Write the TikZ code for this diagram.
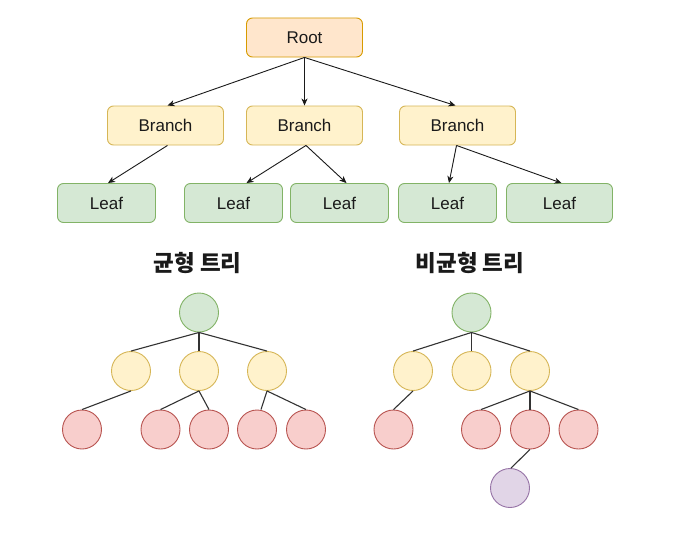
\documentclass[tikz,border=0pt]{standalone}
\usepackage{fontspec}
\setmainfont{Liberation Sans}
\newfontfamily\krfont{Noto Sans CJK KR}
\usetikzlibrary{arrows.meta}
\definecolor{rootfill}{HTML}{FFE6CC}\definecolor{rootdraw}{HTML}{D79B00}
\definecolor{brfill}{HTML}{FFF2CC}\definecolor{brdraw}{HTML}{D6B656}
\definecolor{lffill}{HTML}{D5E8D4}\definecolor{lfdraw}{HTML}{82B366}
\definecolor{rdfill}{HTML}{F8CECC}\definecolor{rddraw}{HTML}{B85450}
\definecolor{pufill}{HTML}{E1D5E7}\definecolor{pudraw}{HTML}{9673A6}
\definecolor{txt}{HTML}{1A1A1A}
\tikzset{
  box/.style={draw, rounded corners=6pt, line width=0.9pt, minimum height=39pt, inner sep=0pt, text=txt, font=\fontsize{17}{19}\selectfont},
  rootbox/.style={box, fill=rootfill, draw=rootdraw, minimum width=116pt},
  brbox/.style={box, fill=brfill, draw=brdraw, minimum width=116pt},
  lfbox/.style={box, fill=lffill, draw=lfdraw, minimum width=98pt, minimum height=39pt},
  dot/.style={circle, draw, line width=0.9pt, minimum size=39pt, inner sep=0pt},
  gdot/.style={dot, fill=lffill, draw=lfdraw},
  ydot/.style={dot, fill=brfill, draw=brdraw},
  rdot/.style={dot, fill=rdfill, draw=rddraw},
  pdot/.style={dot, fill=pufill, draw=pudraw},
  arr/.style={draw=txt, line width=0.9pt, -{Stealth[length=7pt,width=6pt,inset=2pt]}},
  edge/.style={draw=black!80, line width=1.1pt},
  title/.style={font=\krfont\bfseries\fontsize{22.5}{25}\selectfont, text=txt}
}
\begin{document}
\begin{tikzpicture}[x=1pt,y=-1pt]
\fill[white] (0,0) rectangle (676,535);
\useasboundingbox (0,0) rectangle (676,535);
% top tree
\node[rootbox] (root) at (304.5,37.5) {Root};
\node[brbox] (b1) at (165.5,125.5) {Branch};
\node[brbox] (b2) at (304.5,125.5) {Branch};
\node[brbox] (b3) at (457.5,125.5) {Branch};
\node[lfbox] (l1) at (106.5,203) {Leaf};
\node[lfbox] (l2) at (233.5,203) {Leaf};
\node[lfbox] (l3) at (339.5,203) {Leaf};
\node[lfbox] (l4) at (447.5,203) {Leaf};
\node[lfbox, minimum width=106pt] (l5) at (559.5,203) {Leaf};
\draw[arr] (root.south) -- ([xshift=2pt]b1.north);
\draw[arr] (root.south) -- (b2.north);
\draw[arr] (root.south) -- ([xshift=-2pt]b3.north);
\draw[arr] ([xshift=2pt]b1.south) -- ([xshift=1.5pt]l1.north);
\draw[arr] ([xshift=1.5pt]b2.south) -- ([xshift=13pt]l2.north);
\draw[arr] ([xshift=1.5pt]b2.south) -- ([xshift=7pt]l3.north);
\draw[arr] ([xshift=-1pt]b3.south) -- ([xshift=1.5pt]l4.north);
\draw[arr] ([xshift=-1pt]b3.south) -- ([xshift=2pt]l5.north);
% titles
\node[title] (t1) at (197.5,263) {균형 트리};
\node[title] (t2) at (470,263) {비균형 트리};
% balanced tree
\node[gdot] (a0) at (199,312.5) {};
\node[ydot] (a1) at (131,371) {};
\node[ydot] (a2) at (199,371) {};
\node[ydot] (a3) at (267,371) {};
\node[rdot] (a4) at (82,429.5) {};
\node[rdot] (a5) at (160.5,429.5) {};
\node[rdot] (a6) at (209,429.5) {};
\node[rdot] (a7) at (257,429.5) {};
\node[rdot] (a8) at (306,429.5) {};
\draw[edge] (a0.south) -- (a1.north);
\draw[edge] (a0.south) -- (a2.north);
\draw[edge] (a0.south) -- (a3.north);
\draw[edge] (a1.south) -- (a4.north);
\draw[edge] (a2.south) -- (a5.north);
\draw[edge] (a2.south) -- (a6.north);
\draw[edge] (a3.south) -- ([xshift=4pt]a7.north);
\draw[edge] (a3.south) -- (a8.north);
% unbalanced tree
\node[gdot] (c0) at (471.5,312.5) {};
\node[ydot] (c1) at (413,371) {};
\node[ydot] (c2) at (471.5,371) {};
\node[ydot] (c3) at (530,371) {};
\node[rdot] (c4) at (393.5,429.5) {};
\node[rdot] (c5) at (481,429.5) {};
\node[rdot] (c6) at (530,429.5) {};
\node[rdot] (c7) at (578.5,429.5) {};
\node[pdot] (c8) at (510,488) {};
\draw[edge] (c0.south) -- (c1.north);
\draw[edge] (c0.south) -- (c2.north);
\draw[edge] (c0.south) -- (c3.north);
\draw[edge] (c1.south) -- (c4.north);
\draw[edge] (c3.south) -- (c5.north);
\draw[edge] (c3.south) -- (c6.north);
\draw[edge] (c3.south) -- (c7.north);
\draw[edge] (c6.south) -- ([xshift=1pt]c8.north);
\end{tikzpicture}
\end{document}
